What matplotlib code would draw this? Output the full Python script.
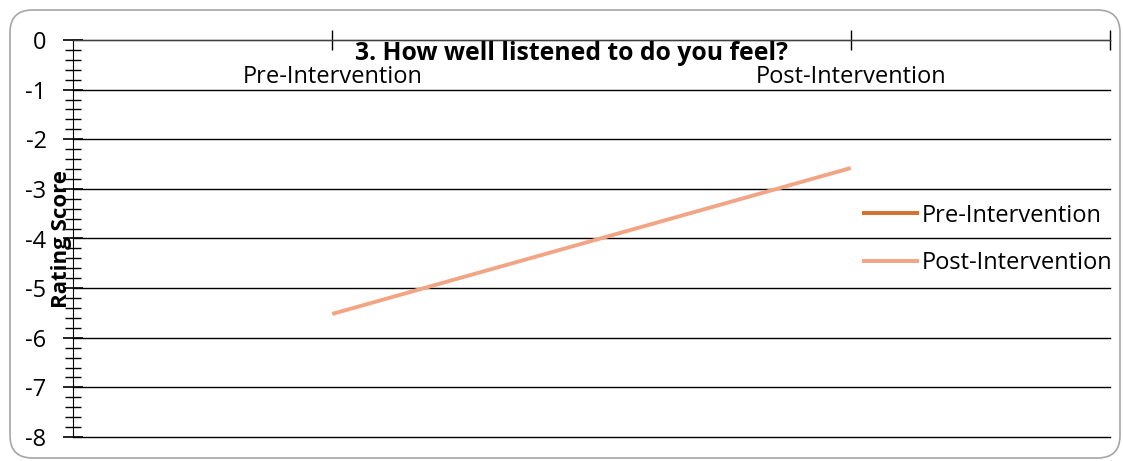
import matplotlib

matplotlib.use("Agg")
import matplotlib.pyplot as plt
from matplotlib.patches import FancyBboxPatch
from matplotlib.ticker import MultipleLocator, FixedLocator
import numpy as np

# chart data
categories = ["Pre-Intervention", "Post-Intervention"]
pre_values = [np.nan, np.nan]
post_values = [-5.52, -2.58]
series_names = ["Pre-Intervention", "Post-Intervention"]
y_ticks = [0, -1, -2, -3, -4, -5, -6, -7, -8]

PRE_COLOR = "#D4702E"
POST_COLOR = "#F2A585"
FONT = ["Open Sans", "DejaVu Sans"]

plt.rcParams["font.family"] = FONT
plt.rcParams["axes.unicode_minus"] = False

fig = plt.figure(figsize=(11.23, 4.61), dpi=100)
ax = fig.add_axes([73 / 1123, 1 - 437 / 461, (1110 - 73) / 1123, (437 - 40) / 461])

# rounded outer border
border = FancyBboxPatch(
    (10 / 1123, 3 / 461), 1110 / 1123, 448 / 461,
    boxstyle="round,pad=0,rounding_size=0.02",
    transform=fig.transFigure, facecolor="none", edgecolor="#A6A6A6", lw=1.2,
    mutation_aspect=1123 / 461,
)
fig.patches.append(border)

x = np.arange(len(categories))
ax.plot(x, pre_values, color=PRE_COLOR, lw=2.8, label=series_names[0], solid_capstyle="butt")
ax.plot(x, post_values, color=POST_COLOR, lw=2.8, label=series_names[1], solid_capstyle="butt")

ax.set_xlim(-0.5, 1.5)
ax.set_ylim(-8, 0)

# x axis sits at y=0 with labels hanging below it
ax.spines["bottom"].set_position(("data", 0))
ax.spines["bottom"].set_color("#404040")
ax.spines["top"].set_visible(False)
ax.spines["right"].set_visible(False)
ax.spines["left"].set_color("black")

ax.xaxis.set_major_locator(FixedLocator([0, 1, 1.5]))
ax.set_xticklabels(categories + [""])
ax.tick_params(axis="x", direction="inout", length=14, width=1, pad=11, labelsize=17)

ax.yaxis.set_major_locator(FixedLocator(y_ticks))
ax.yaxis.set_minor_locator(MultipleLocator(0.2))
ax.tick_params(axis="y", which="major", direction="inout", length=14, width=1.2, pad=12, labelsize=17)
ax.tick_params(axis="y", which="minor", direction="inout", length=12, width=1)

ax.yaxis.grid(True, color="black", lw=1)
for gl in ax.get_ygridlines():
    gl.set_clip_on(False)
ax.set_axisbelow(True)

ax.set_ylabel("Rating Score", fontsize=16, fontweight="bold")
ax.yaxis.label.set_verticalalignment("center")
ax.yaxis.set_label_coords(-11 / 1037, 0.5)
ax.text(0.481, 0.997, "3. How well listened to do you feel?", transform=ax.transAxes,
        ha="center", va="top", fontsize=17.8, fontweight="bold")

leg = ax.legend(loc="center left", bbox_to_anchor=(0.7405, 0.4975), frameon=False,
                fontsize=17, handlelength=2.4, handletextpad=0.13, labelspacing=1.0)

fig.savefig("out.png", dpi=100)
